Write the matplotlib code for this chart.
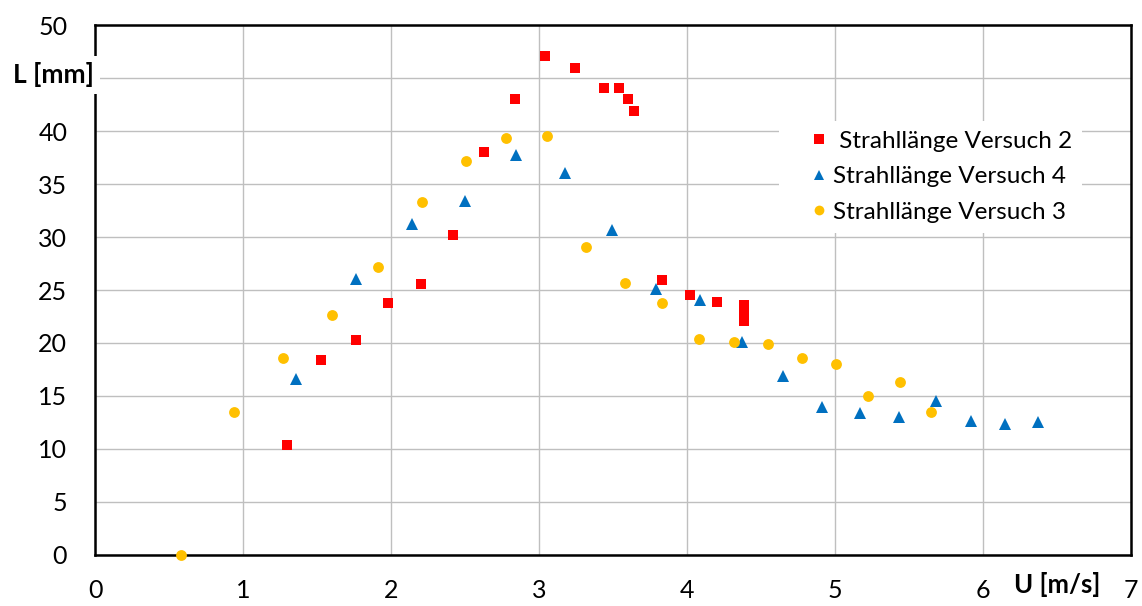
import matplotlib
matplotlib.use('Agg')
import matplotlib.pyplot as plt

plt.rcParams['font.family'] = ['Lato', 'DejaVu Sans']

# Strahllänge Versuch 2 (red squares)
u_v2 = [1.30, 1.53, 1.76, 1.98, 2.20, 2.42, 2.63, 2.84, 3.04, 3.245, 3.44, 3.54, 3.60, 3.64,
        3.83, 4.02, 4.20, 4.385, 4.385, 4.385]
l_v2 = [10.4, 18.4, 20.3, 23.8, 25.6, 30.2, 38.0, 43.05, 47.1, 45.9, 44.1, 44.1, 43.0, 41.9,
        25.9, 24.5, 23.9, 23.6, 22.6, 22.1]

# Strahllänge Versuch 4 (blue triangles)
u_v4 = [1.357, 1.76, 2.14, 2.50, 2.845, 3.176, 3.49, 3.79, 4.09, 4.37, 4.65, 4.91, 5.17, 5.43,
        5.68, 5.92, 6.15, 6.37]
l_v4 = [16.6, 26.0, 31.2, 33.4, 37.7, 36.0, 30.7, 25.1, 24.1, 20.1, 16.9, 14.0, 13.4, 13.0,
        14.5, 12.6, 12.4, 12.5]

# Strahllänge Versuch 3 (yellow circles)
u_v3 = [0.58, 0.94, 1.27, 1.60, 1.91, 2.21, 2.505, 2.78, 3.056, 3.32, 3.58, 3.83, 4.08, 4.315,
        4.55, 4.78, 5.005, 5.22, 5.44, 5.65]
l_v3 = [0.0, 13.5, 18.6, 22.6, 27.2, 33.3, 37.2, 39.3, 39.5, 29.05, 25.7, 23.8, 20.4, 20.1,
        19.9, 18.6, 18.0, 15.0, 16.3, 13.5]

xticks = [0, 1, 2, 3, 4, 5, 6, 7]
yticks = [0, 5, 10, 15, 20, 25, 30, 35, 40, 45, 50]

fig = plt.figure(figsize=(11.42, 6.06), dpi=100)
ax = fig.add_axes([0.0832, 0.0842, 0.9072, 0.8745])

ax.plot(u_v2, l_v2, ls='', marker='s', ms=7.6, color='#FF0000', mew=0,
        label=' Strahllänge Versuch 2', clip_on=False, zorder=3)
ax.plot(u_v4, l_v4, ls='', marker='^', ms=8.5, color='#0070C0', mew=0,
        label='Strahllänge Versuch 4', clip_on=False, zorder=3)
ax.plot(u_v3, l_v3, ls='', marker='o', ms=7.8, color='#FFC000', mew=0,
        label='Strahllänge Versuch 3', clip_on=False, zorder=3)

ax.set_xlim(0, 7)
ax.set_ylim(0, 50)
ax.set_xticks(xticks)
ax.set_yticks(yticks)
ax.set_yticklabels(['' if v == 45 else str(v) for v in yticks])
ax.tick_params(length=0, labelsize=18, colors='black')
ax.tick_params(axis='x', pad=17)
ax.tick_params(axis='y', pad=20)
ax.grid(True, color='#BFBFBF', lw=1.0)
ax.set_axisbelow(True)
for s in ax.spines.values():
    s.set_linewidth(1.8)
    s.set_color('black')

# axis titles sit inside the frame like in the original
ax.text(-0.0405, 45.3, 'L [mm]', fontsize=19, fontweight='bold', ha='center', va='center',
        transform=ax.get_yaxis_transform(),
        bbox=dict(facecolor='white', edgecolor='none', pad=4.5), zorder=5, clip_on=False)
ax.text(6.5, -2.8, 'U [m/s]', fontsize=18.5, fontweight='bold', ha='center', va='center',
        clip_on=False)

leg = ax.legend(loc='upper left', bbox_to_anchor=(0.660, 0.819), fontsize=17.5,
                frameon=True, fancybox=False, framealpha=1, edgecolor='none',
                facecolor='white', handlelength=2.5, handletextpad=-0.67,
                labelspacing=0.6, markerscale=0.9, borderpad=0.4, borderaxespad=0)

fig.savefig('out.png', dpi=100)
